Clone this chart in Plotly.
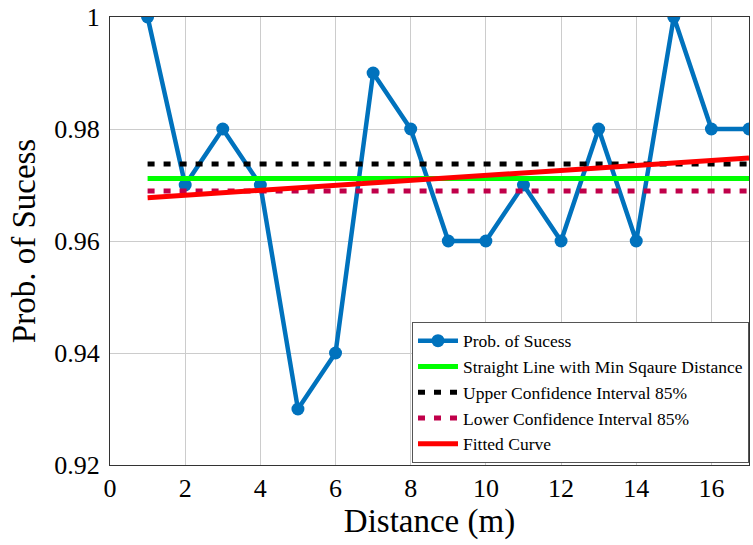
import plotly.graph_objects as go

distance = list(range(1, 18))
prob_success = [1.00, 0.97, 0.98, 0.97, 0.93, 0.94, 0.99, 0.98, 0.96, 0.96,
                0.97, 0.96, 0.98, 0.96, 1.00, 0.98, 0.98]
line_x = [1, 17]
min_square_line = [0.97118, 0.97118]
upper_ci = [0.97375, 0.97375]
lower_ci = [0.96895, 0.96895]
fitted_curve = [0.96772, 0.97481]

x_ticks = [0, 2, 4, 6, 8, 10, 12, 14, 16]
y_ticks = [0.92, 0.94, 0.96, 0.98, 1.0]
y_tick_labels = ["0.92", "0.94", "0.96", "0.98", "1"]

FONT = "Liberation Serif"
fig = go.Figure()
fig.add_trace(go.Scatter(x=distance, y=prob_success, mode="lines+markers",
                         name="Prob. of Sucess",
                         line=dict(color="#0072BD", width=4.5),
                         marker=dict(color="#0072BD", size=13, symbol="circle")))
fig.add_trace(go.Scatter(x=line_x, y=min_square_line, mode="lines",
                         name="Straight Line with Min Sqaure Distance",
                         line=dict(color="#00FF00", width=5)))
fig.add_trace(go.Scatter(x=line_x, y=upper_ci, mode="lines",
                         name="Upper Confidence Interval 85%",
                         line=dict(color="black", width=5, dash="7px,9px")))
fig.add_trace(go.Scatter(x=line_x, y=lower_ci, mode="lines",
                         name="Lower Confidence Interval 85%",
                         line=dict(color="#C0004A", width=5, dash="7px,9px")))
fig.add_trace(go.Scatter(x=line_x, y=fitted_curve, mode="lines",
                         name="Fitted Curve",
                         line=dict(color="#FF0000", width=5)))

fig.update_layout(
    width=753, height=545,
    margin=dict(l=110, r=3, t=14, b=80),
    paper_bgcolor="white", plot_bgcolor="white",
    font=dict(family=FONT, size=26, color="black"),
    showlegend=True,
    legend=dict(x=1, y=0.005, xanchor="right", yanchor="bottom",
                bgcolor="white", bordercolor="#555", borderwidth=1,
                font=dict(family=FONT, size=17.5), tracegroupgap=0,
                itemwidth=40),
    xaxis=dict(range=[0, 17], tickvals=x_ticks, showgrid=True,
               gridcolor="#cccccc", gridwidth=1, showline=True, linecolor="#333",
               linewidth=1, mirror=True, zeroline=False, ticks="",
               title=dict(text="Distance (m)", font=dict(size=33), standoff=6),
               tickfont=dict(size=26)),
    yaxis=dict(range=[0.92, 1.0], tickvals=y_ticks, ticktext=y_tick_labels,
               showgrid=True, gridcolor="#cccccc", gridwidth=1, showline=True,
               linecolor="#333", linewidth=1, mirror=True, zeroline=False,
               ticks="", ticklabelstandoff=4,
               title=dict(text="Prob. of Sucess", font=dict(size=33), standoff=8),
               tickfont=dict(size=26)),
)
fig.write_html("out.html", config={"displayModeBar": False},
               post_script="document.body.style.margin='0';document.body.style.overflow='hidden';")
